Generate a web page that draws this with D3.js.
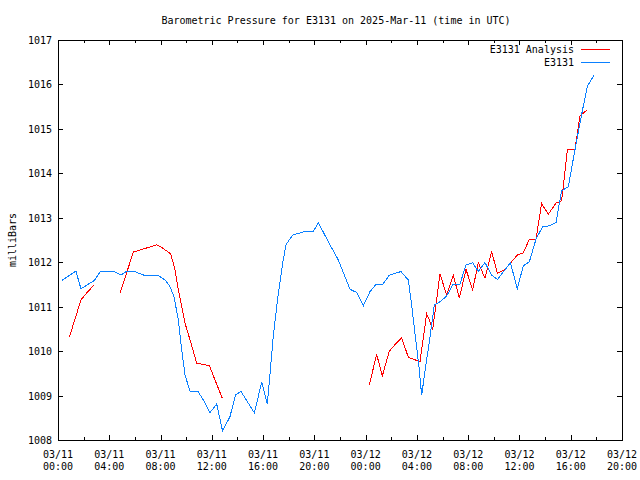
<!DOCTYPE html>
<html>
<head>
<meta charset="utf-8">
<script src="https://cdn.jsdelivr.net/npm/d3@7"></script>
<style>
  html, body { margin: 0; padding: 0; background: #fff; }
  svg { display: block; }
  text { font-family: "DejaVu Sans Mono", "Liberation Mono", monospace; font-size: 10px; fill: #000; }
</style>
</head>
<body>
<svg id="chart" width="640" height="480"></svg>
<script>
// ---- data (hours after 2025-03-11 00:00 UTC) ----
const startUTC = Date.UTC(2025, 2, 11, 0, 0);
const endHours = 44;

const stationHours = [0.31,1.40,1.79,2.83,3.33,4.32,4.92,5.36,5.88,6.79,7.83,8.35,8.74,9.05,9.39,9.65,9.91,10.30,10.90,11.34,11.84,12.38,12.84,13.42,13.85,14.28,15.32,15.89,16.33,16.59,16.80,17.19,17.53,17.79,18.31,19.22,19.92,20.31,21.09,21.87,22.78,23.30,23.82,24.34,24.81,25.33,25.85,26.75,27.33,27.54,27.85,28.16,28.37,28.63,29.02,29.36,29.80,30.32,30.84,31.36,31.83,32.35,32.79,33.31,33.83,34.28,35.30,35.83,36.30,36.77,37.29,37.81,38.33,38.85,39.29,39.81,40.33,40.86,41.29,41.81];
const stationValues = [1011.59,1011.80,1011.40,1011.59,1011.80,1011.80,1011.71,1011.80,1011.80,1011.70,1011.70,1011.60,1011.45,1011.22,1010.70,1010.03,1009.46,1009.10,1009.10,1008.90,1008.61,1008.81,1008.20,1008.53,1009.02,1009.09,1008.61,1009.30,1008.81,1009.65,1010.36,1011.30,1011.98,1012.40,1012.61,1012.69,1012.69,1012.89,1012.46,1012.05,1011.39,1011.32,1011.02,1011.34,1011.50,1011.50,1011.71,1011.79,1011.60,1011.15,1010.40,1009.65,1009.01,1009.54,1010.32,1011.04,1011.11,1011.24,1011.51,1011.51,1011.94,1011.99,1011.79,1011.99,1011.71,1011.61,1011.99,1011.40,1011.92,1012.01,1012.52,1012.80,1012.82,1012.89,1013.61,1013.70,1014.53,1015.34,1015.95,1016.21];

// null = missing analysis value (gap in the line)
const analysisHours = [0.88,1.79,2.30,2.83,3.80,4.86,5.88,6.79,7.70,8.10,8.79,9.13,9.39,9.91,10.30,10.82,11.81,12.82,18.0,24.29,24.86,25.30,25.85,26.30,26.81,27.33,27.72,28.24,28.76,28.97,29.23,29.80,30.32,30.84,31.31,31.83,32.35,32.79,33.31,33.83,34.28,34.87,35.30,35.83,36.30,36.77,37.29,37.73,38.25,38.85,39.29,39.74,40.33,40.72,41.29];
const analysisValues = [1010.31,1011.15,1011.33,1011.49,null,1011.32,1012.23,1012.31,1012.39,1012.33,1012.19,1011.83,1011.38,1010.63,1010.25,1009.73,1009.67,1008.94,null,1009.24,1009.93,1009.44,1010.00,1010.15,1010.30,1009.86,1009.82,1009.76,1010.84,1010.70,1010.48,1011.74,1011.26,1011.71,1011.19,1011.84,1011.38,1011.99,1011.64,1012.24,1011.75,1011.84,1011.98,1012.16,1012.21,1012.52,1012.52,1013.32,1013.08,1013.33,1013.38,1014.53,1014.54,1015.29,1015.43];

const yTicks = [1008,1009,1010,1011,1012,1013,1014,1015,1016,1017];
const xTickHours = [0,4,8,12,16,20,24,28,32,36,40,44];
const xTickDates = ["03/11","03/11","03/11","03/11","03/11","03/11","03/12","03/12","03/12","03/12","03/12","03/12"];
const xTickTimes = ["00:00","04:00","08:00","12:00","16:00","20:00","00:00","04:00","08:00","12:00","16:00","20:00"];
const xMinorHours = d3.range(0, 45, 2);

const titleText = "Barometric Pressure for E3131 on 2025-Mar-11 (time in UTC)";
const yLabel = "milliBars";
const seriesNames = ["E3131 Analysis", "E3131"];
const seriesColors = ["#ff0000", "#0a80ff"];

// ---- layout ----
const L = 58, R = 622, T = 40, B = 440;
const toDate = h => new Date(startUTC + h * 3600e3);

const x = d3.scaleUtc().domain([toDate(0), toDate(endHours)]).range([L, R]);
const y = d3.scaleLinear().domain([1008, 1017]).range([B, T]);

const svg = d3.select("#chart");

const station = stationHours.map((h, i) => ({ t: toDate(h), v: stationValues[i] }));
const analysis = analysisHours.map((h, i) => ({ t: toDate(h), v: analysisValues[i] }));

// title
svg.append("text").attr("x", 336).attr("y", 24).attr("text-anchor", "middle").text(titleText);

// y label
svg.append("text").attr("transform", "translate(15.5,240) rotate(-90)")
  .attr("text-anchor", "middle").text(yLabel);

// axes with ticks (inward, mirrored)
const g = svg.append("g").attr("shape-rendering", "crispEdges");

g.append("g").attr("transform", `translate(0,${B})`)
  .call(d3.axisBottom(x).tickValues(xMinorHours.map(toDate)).tickSize(-3).tickFormat(""))
  .call(s => s.select(".domain").remove());
g.append("g").attr("transform", `translate(0,${T})`)
  .call(d3.axisTop(x).tickValues(xMinorHours.map(toDate)).tickSize(-3).tickFormat(""))
  .call(s => s.select(".domain").remove());
g.append("g").attr("transform", `translate(0,${B})`)
  .call(d3.axisBottom(x).tickValues(xTickHours.map(toDate)).tickSize(-5).tickFormat(""))
  .call(s => s.select(".domain").remove());
g.append("g").attr("transform", `translate(0,${T})`)
  .call(d3.axisTop(x).tickValues(xTickHours.map(toDate)).tickSize(-5).tickFormat(""))
  .call(s => s.select(".domain").remove());
g.append("g").attr("transform", `translate(${L},0)`)
  .call(d3.axisLeft(y).tickValues(yTicks).tickSize(-5).tickFormat(""))
  .call(s => s.select(".domain").remove());
g.append("g").attr("transform", `translate(${R},0)`)
  .call(d3.axisRight(y).tickValues(yTicks).tickSize(-5).tickFormat(""))
  .call(s => s.select(".domain").remove());
g.selectAll(".tick line").attr("stroke", "#000");

// border
g.append("rect").attr("x", L).attr("y", T).attr("width", R - L).attr("height", B - T)
  .attr("fill", "none").attr("stroke", "#000");

// y tick labels
svg.append("g").selectAll("text").data(yTicks).join("text")
  .attr("x", 52).attr("y", d => y(d) + 4).attr("text-anchor", "end").text(d => d);

// x tick labels (two lines)
const xl = svg.append("g").selectAll("g").data(xTickHours).join("g");
xl.append("text").attr("x", d => x(toDate(d))).attr("y", 458).attr("text-anchor", "middle")
  .text((d, i) => xTickDates[i]);
xl.append("text").attr("x", d => x(toDate(d))).attr("y", 470).attr("text-anchor", "middle")
  .text((d, i) => xTickTimes[i]);

// lines
const line = d3.line().defined(d => d.v != null).x(d => x(d.t)).y(d => y(d.v));
svg.append("path").datum(analysis).attr("d", line)
  .attr("fill", "none").attr("stroke", seriesColors[0]).attr("stroke-width", 1)
  .attr("shape-rendering", "crispEdges");
svg.append("path").datum(station).attr("d", line)
  .attr("fill", "none").attr("stroke", seriesColors[1]).attr("stroke-width", 1)
  .attr("shape-rendering", "crispEdges");

// legend
const lg = svg.append("g");
seriesNames.forEach((name, i) => {
  const yy = 49.5 + i * 13;
  lg.append("text").attr("x", 574).attr("y", yy + 3.5).attr("text-anchor", "end").text(name);
  lg.append("line").attr("x1", 581).attr("x2", 610).attr("y1", yy).attr("y2", yy)
    .attr("stroke", seriesColors[i]).attr("stroke-width", 1).attr("shape-rendering", "crispEdges");
});
</script>
</body>
</html>
